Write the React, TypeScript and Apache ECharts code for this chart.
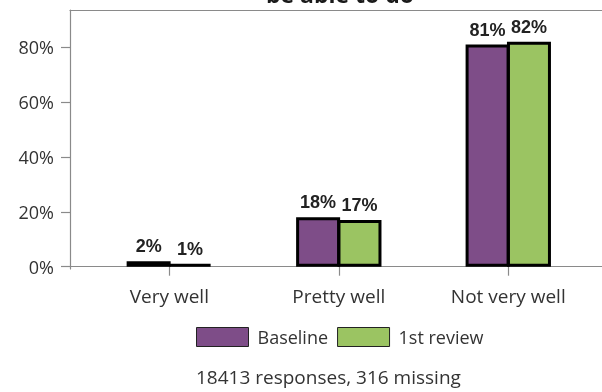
import React, { useEffect, useRef } from "react";
import * as echarts from "echarts";

const categories = ["Very well", "Pretty well", "Not very well"];
const seriesNames = ["Baseline", "1st review"];
const baseline = [2, 18, 81];
const firstReview = [1, 17, 82];
const yTicks = [0, 20, 40, 60, 80];
const footer = "18413 responses, 316 missing";
const titleText = "be able to do";

const FONT = "'Open Sans', 'DejaVu Sans', sans-serif";

export default function App() {
  const ref = useRef<HTMLDivElement>(null);
  useEffect(() => {
    if (!ref.current) return;
    const chart = echarts.init(ref.current, null, { renderer: "svg" });
    const catPos = categories.map((_, i) => i + 1);
    const labelCfg = {
      show: true,
      position: "top",
      distance: 6,
      formatter: (p: any) => p.value[1] + "%",
      fontFamily: "'Liberation Sans', Arial, sans-serif",
      fontWeight: "bold",
      fontSize: 18,
      color: "#222",
    };
    chart.setOption({
      animation: false,
      grid: { left: 70, right: 0, top: 10, bottom: 123, containLabel: false },
      xAxis: [
        {
          type: "value",
          min: 0.414,
          max: 3.553,
          splitLine: { show: false },
          axisLine: { show: true, lineStyle: { color: "#8a8a8a", width: 1.2 } },
          axisTick: {
            show: true,
            customValues: catPos,
            length: 9,
            lineStyle: { color: "#8a8a8a", width: 1.2 },
          },
          axisLabel: {
            customValues: catPos,
            formatter: (v: number) => categories[Math.round(v) - 1] ?? "",
            fontFamily: FONT,
            fontSize: 19,
            color: "#333",
            margin: 17,
          },
        },
        {
          type: "value",
          position: "top",
          min: 0.414,
          max: 3.553,
          splitLine: { show: false },
          axisLine: { show: true, lineStyle: { color: "#8a8a8a", width: 1.2 } },
          axisTick: { show: false },
          axisLabel: { show: false },
        },
      ],
      yAxis: {
        type: "value",
        min: -0.84,
        max: 93.6,
        splitLine: { show: false },
        axisLine: { show: true, lineStyle: { color: "#8a8a8a", width: 1.2 } },
        axisTick: {
          show: true,
          customValues: yTicks,
          length: 9,
          lineStyle: { color: "#8a8a8a", width: 1.2 },
        },
        axisLabel: {
          customValues: yTicks,
          formatter: (v: number) => v + "%",
          fontFamily: FONT,
          fontSize: 18,
          color: "#333",
          margin: 16,
        },
      },
      legend: {
        left: 196,
        top: 327,
        padding: 0,
        icon: "rect",
        itemWidth: 52,
        itemHeight: 19,
        itemGap: 9,
        data: seriesNames,
        itemStyle: { borderColor: "#222", borderWidth: 1 },
        textStyle: {
          fontFamily: FONT,
          fontSize: 18,
          color: "#333",
          padding: [0, 0, 0, 4],
        },
      },
      series: [
        {
          name: seriesNames[0],
          type: "bar",
          barWidth: 44,
          barGap: "-6%",
          data: catPos.map((x, i) => [x, baseline[i]]),
          itemStyle: { color: "#7E4D88", borderColor: "#000", borderWidth: 3 },
          label: labelCfg,
        },
        {
          name: seriesNames[1],
          type: "bar",
          barWidth: 44,
          barGap: "-6%",
          data: catPos.map((x, i) => [x, firstReview[i]]),
          itemStyle: { color: "#9BC462", borderColor: "#000", borderWidth: 3 },
          label: labelCfg,
        },
      ],
      graphic: [
        {
          type: "text",
          x: 340,
          y: 5,
          style: {
            text: titleText,
            textAlign: "center",
            textVerticalAlign: "bottom",
            fontFamily: FONT,
            fontWeight: "bold",
            fontSize: 23,
            fill: "#1a1a1a",
          },
        },
        {
          type: "text",
          x: 196,
          y: 367,
          style: {
            text: footer,
            fontFamily: FONT,
            fontSize: 19,
            fill: "#333",
          },
        },
      ],
    });
    return () => chart.dispose();
  }, []);
  return <div ref={ref} style={{ width: 602, height: 392, position: "fixed", left: 0, top: 0 }} />;
}
